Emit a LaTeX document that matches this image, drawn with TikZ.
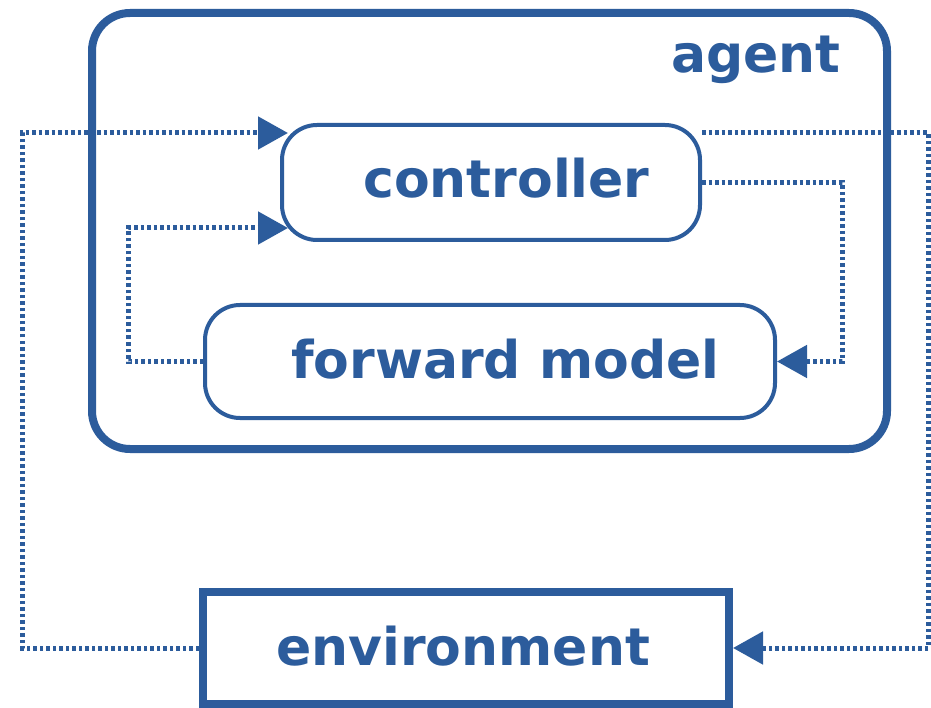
\documentclass[tikz,border=0pt]{standalone}
\usepackage{fontspec}
\setmainfont{DejaVu Sans}
\usetikzlibrary{arrows.meta,calc}
\definecolor{cb}{RGB}{44,92,156}
\begin{document}
\begin{tikzpicture}[x=1pt,y=-1pt,
  box/.style={draw=cb,line width=4pt,rounded corners=35pt,inner sep=0pt},
  lbl/.style={text=cb,font=\fontsize{52}{60}\selectfont\bfseries,inner sep=0pt,anchor=base west},
  link/.style={draw=cb,line width=5pt,dash pattern=on 3.5pt off 3pt},
  tip/.style={-{Triangle[length=30pt,width=32pt]}}
]
\useasboundingbox (0,0) rectangle (931,708);
\fill[white] (0,0) rectangle (931,708);
% boxes
\node[box,line width=8pt,rounded corners=38pt,minimum width=795pt,minimum height=436pt] (agent) at (489.5,231) {};
\node[box,minimum width=418pt,minimum height=115pt] (ctrl) at (491,182.5) {};
\node[box,minimum width=570pt,minimum height=113pt] (fm) at (490,361.5) {};
\node[draw=cb,line width=8pt,inner sep=0pt,minimum width=526pt,minimum height=112pt] (env) at (466,648) {};
% labels
\node[lbl] (agentlbl) at (671,73) {agent};
\node[lbl] (ctrllbl) at (363,198) {controller};
\node[lbl] (fmlbl) at (291,378) {forward model};
\node[lbl] (envlbl) at (276,665) {environment};
% connectors
\draw[link,tip] (env.west) -- (22,648) |- ($(ctrl.west)+(8,-49.5)$);
\draw[link,tip] ($(ctrl.east)+(0,-49.5)$) -| (928,648) -- (env.east);
\draw[link,tip] (ctrl.east) -- (842,182.5) |- (fm.east);
\draw[link,tip] (fm.west) -- (128,361.5) |- ($(ctrl.west)+(8,45.5)$);
\end{tikzpicture}
\end{document}
